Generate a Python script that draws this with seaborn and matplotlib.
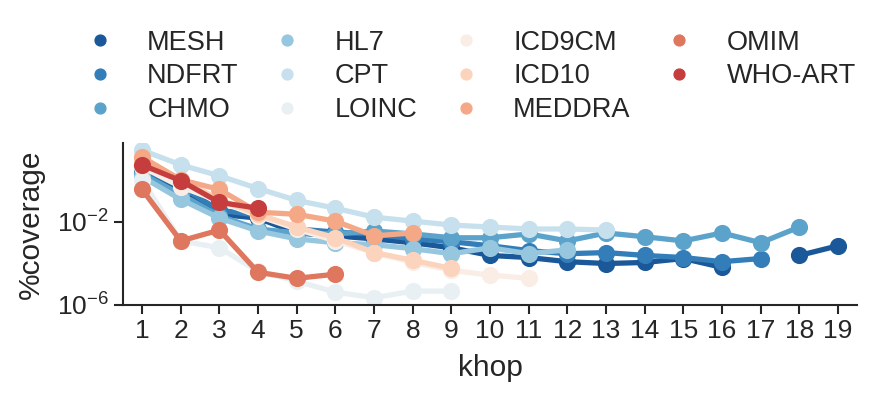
import numpy as np
import pandas as pd
import matplotlib
matplotlib.use("Agg")
import matplotlib.pyplot as plt
from matplotlib.lines import Line2D
import seaborn as sns

# data (percent coverage per khop)
khops = list(range(1, 20))
vocabs = ['MESH', 'NDFRT', 'CHMO', 'HL7', 'CPT', 'LOINC',
          'ICD9CM', 'ICD10', 'MEDDRA', 'OMIM', 'WHO-ART']

mesh = [2.5, 0.36, 0.023, 0.015, 0.0029, 0.0021, 0.0015, 0.00098, 0.00056, 0.00024,
        0.00019, 0.00012, 0.000098, 0.00011, 0.00017, 0.000064, 0.0, 0.00024, 0.00070]
ndfrt = [3.5, 0.49, 0.036, 0.021, 0.0045, 0.0032, 0.0026, 0.0015, 0.0011, 0.00070,
         0.00041, 0.00029, 0.00033, 0.00024, 0.00019, 0.00012, 0.00017]
chmo = [2.0, 0.21, 0.019, 0.0045, 0.0029, 0.0026, 0.0036, 0.0026, 0.0017, 0.0017,
        0.0026, 0.0012, 0.0029, 0.0019, 0.0012, 0.0029, 0.00098, 0.0056]
hl7 = [1.47, 0.119, 0.015, 0.0036, 0.0015, 0.00098, 0.00079, 0.00051, 0.00029, 0.00056,
       0.00029, 0.00045]
cpt = [28, 5.5, 1.64, 0.40, 0.107, 0.045, 0.0167, 0.0108, 0.0070, 0.0056,
       0.0045, 0.0045, 0.0040]
loinc = [1.06, 0.0012, 0.00056, 0.000041, 0.0000138, 0.0000041, 0.0000022,
         0.0000046, 0.0000046]
icd9cm = [4.4, 0.49, 0.096, 0.019, 0.0045, 0.0012, 0.00033, 0.00011, 0.000046,
          0.000027, 0.000019]
icd10 = [9.4, 1.06, 0.119, 0.023, 0.0056, 0.0017, 0.00033, 0.00014, 0.000057]
meddra = [13.1, 1.06, 0.36, 0.029, 0.023, 0.0108, 0.0021, 0.0029]
omim = [0.36, 0.0012, 0.0040, 0.000037, 0.000019, 0.000030]
who_art = [5.5, 0.95, 0.086, 0.045]

series = [mesh, ndfrt, chmo, hl7, cpt, loinc, icd9cm, icd10, meddra, omim, who_art]

rows = []
for name, vals in zip(vocabs, series):
    for k, v in zip(khops, vals):
        rows.append({'khop': k, 'coverage': v, 'vocab': name})
df = pd.DataFrame(rows)

# 1. Style
sns.set_style("ticks")
plt.rcParams['font.family'] = ['Liberation Sans', 'DejaVu Sans']
plt.rcParams['axes.linewidth'] = 1.5

palette = sns.color_palette("RdBu_r", 12)[:11]

fig = plt.figure(figsize=(8.83, 3.98), dpi=100)
ax = fig.add_axes([0.139, 0.234, 0.832, 0.407])

sns.pointplot(data=df, x='khop', y='coverage', hue='vocab', hue_order=vocabs,
              order=khops, palette=palette, markersize=9.5, linewidth=3.8,
              legend=False, ax=ax)

# zero coverage -> gap in the line
ax.set_yscale('log', nonpositive='mask')
ax.set_ylim(1e-6, 10 ** 1.8)
ax.set_yticks([1e-6, 1e-2])
ax.minorticks_off()
ax.set_xlim(-0.5, 18.5)

ax.set_xlabel('khop', fontsize=21.5, labelpad=8)
ax.set_ylabel('%coverage', fontsize=21.5, labelpad=9)
ax.tick_params(labelsize=19, length=6.5, width=1.5)
sns.despine(ax=ax)

# 2. Legend
handles = [Line2D([], [], marker='o', ls='', color=c, markersize=7.8) for c in palette]
fig.legend(handles, vocabs, loc='upper left', bbox_to_anchor=(0.098, 0.925), ncol=4,
           frameon=False, fontsize=19.5, handlelength=1.0, handletextpad=1.24,
           columnspacing=1.3, labelspacing=0.28, borderpad=0, borderaxespad=0)

plt.savefig('out.png', dpi=100)
